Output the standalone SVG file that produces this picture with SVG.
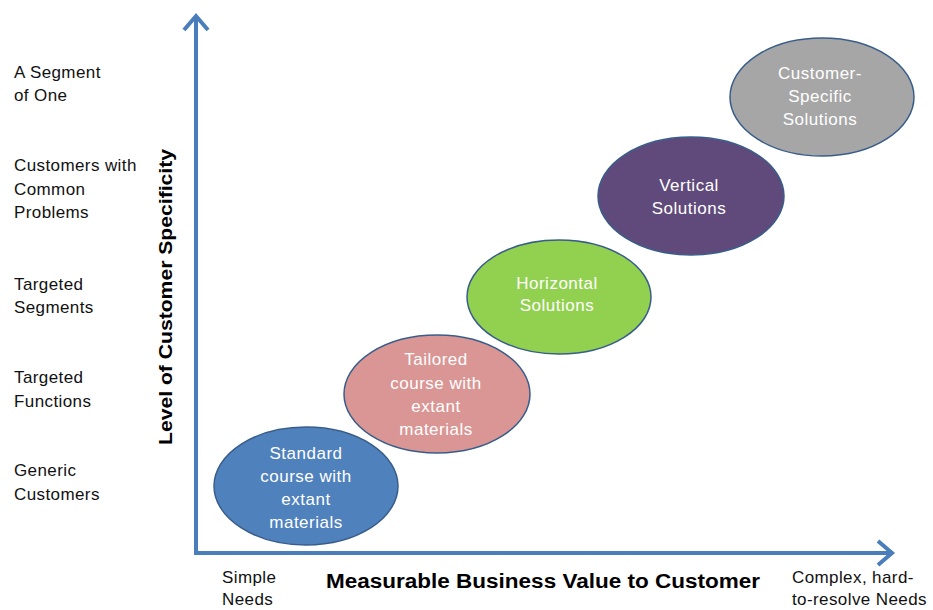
<svg xmlns="http://www.w3.org/2000/svg" width="933" height="610" viewBox="0 0 933 610">
<style>
.lbl{font-family:"Liberation Sans",Arial,sans-serif;font-size:17px;letter-spacing:0.4px;fill:#111}
.in{font-family:"Liberation Sans",Arial,sans-serif;font-size:17px;letter-spacing:0.5px;fill:#ffffff;text-anchor:middle}
.ell{stroke:#385d8a;stroke-width:1.5}
.axis{stroke:#4a7ebb;stroke-width:4;fill:none}
.title{font-family:"Liberation Sans",Arial,sans-serif;font-weight:bold;fill:#000}
</style>
<rect width="933" height="610" fill="#ffffff"/>
<g id="connectors">
<path class="axis" d="M196 553 V16 M184 30 L196 16 L208 30"/>
<path class="axis" d="M194 553 H892 M878 541 L892 553 L878 565"/>
</g>
<g id="y-labels">
<text class="lbl" x="14" y="78">A Segment</text>
<text class="lbl" x="14" y="101">of One</text>
<text class="lbl" x="14" y="171">Customers with</text>
<text class="lbl" x="14" y="195">Common</text>
<text class="lbl" x="14" y="218">Problems</text>
<text class="lbl" x="14" y="290">Targeted</text>
<text class="lbl" x="14" y="313">Segments</text>
<text class="lbl" x="14" y="383">Targeted</text>
<text class="lbl" x="14" y="407">Functions</text>
<text class="lbl" x="14" y="476">Generic</text>
<text class="lbl" x="14" y="500">Customers</text>
</g>
<g id="y-title">
<text class="title" font-size="19" transform="translate(172 297) rotate(-90)" text-anchor="middle" textLength="296" lengthAdjust="spacingAndGlyphs">Level of Customer Specificity</text>
</g>
<g id="x-labels">
<text class="lbl" x="222" y="583">Simple</text>
<text class="lbl" x="222" y="605">Needs</text>
<text class="title" font-size="20" x="326" y="588" textLength="434" lengthAdjust="spacingAndGlyphs">Measurable Business Value to Customer</text>
<text class="lbl" x="792" y="583">Complex, hard-</text>
<text class="lbl" x="792" y="605">to-resolve Needs</text>
</g>
<g id="node-standard">
<ellipse class="ell" cx="306" cy="486" rx="92" ry="59" fill="#4f81bd"/>
<text class="in" x="306" y="459">Standard</text>
<text class="in" x="306" y="482">course with</text>
<text class="in" x="306" y="505">extant</text>
<text class="in" x="306" y="528">materials</text>
</g>
<g id="node-tailored">
<ellipse class="ell" cx="437" cy="394" rx="93" ry="59" fill="#d99694"/>
<text class="in" x="436" y="365">Tailored</text>
<text class="in" x="436" y="389">course with</text>
<text class="in" x="436" y="412">extant</text>
<text class="in" x="436" y="435">materials</text>
</g>
<g id="node-horizontal">
<ellipse class="ell" cx="559" cy="297" rx="92" ry="57" fill="#92d050"/>
<text class="in" x="557" y="289">Horizontal</text>
<text class="in" x="557" y="311">Solutions</text>
</g>
<g id="node-vertical">
<ellipse class="ell" cx="691" cy="196" rx="93" ry="59" fill="#604a7b"/>
<text class="in" x="689" y="191">Vertical</text>
<text class="in" x="689" y="214">Solutions</text>
</g>
<g id="node-specific">
<ellipse class="ell" cx="822" cy="97" rx="92" ry="59" fill="#a6a6a6"/>
<text class="in" x="820" y="79" fill="#f0f0f0">Customer-</text>
<text class="in" x="820" y="102" fill="#f0f0f0">Specific</text>
<text class="in" x="820" y="125" fill="#f0f0f0">Solutions</text>
</g>
</svg>
